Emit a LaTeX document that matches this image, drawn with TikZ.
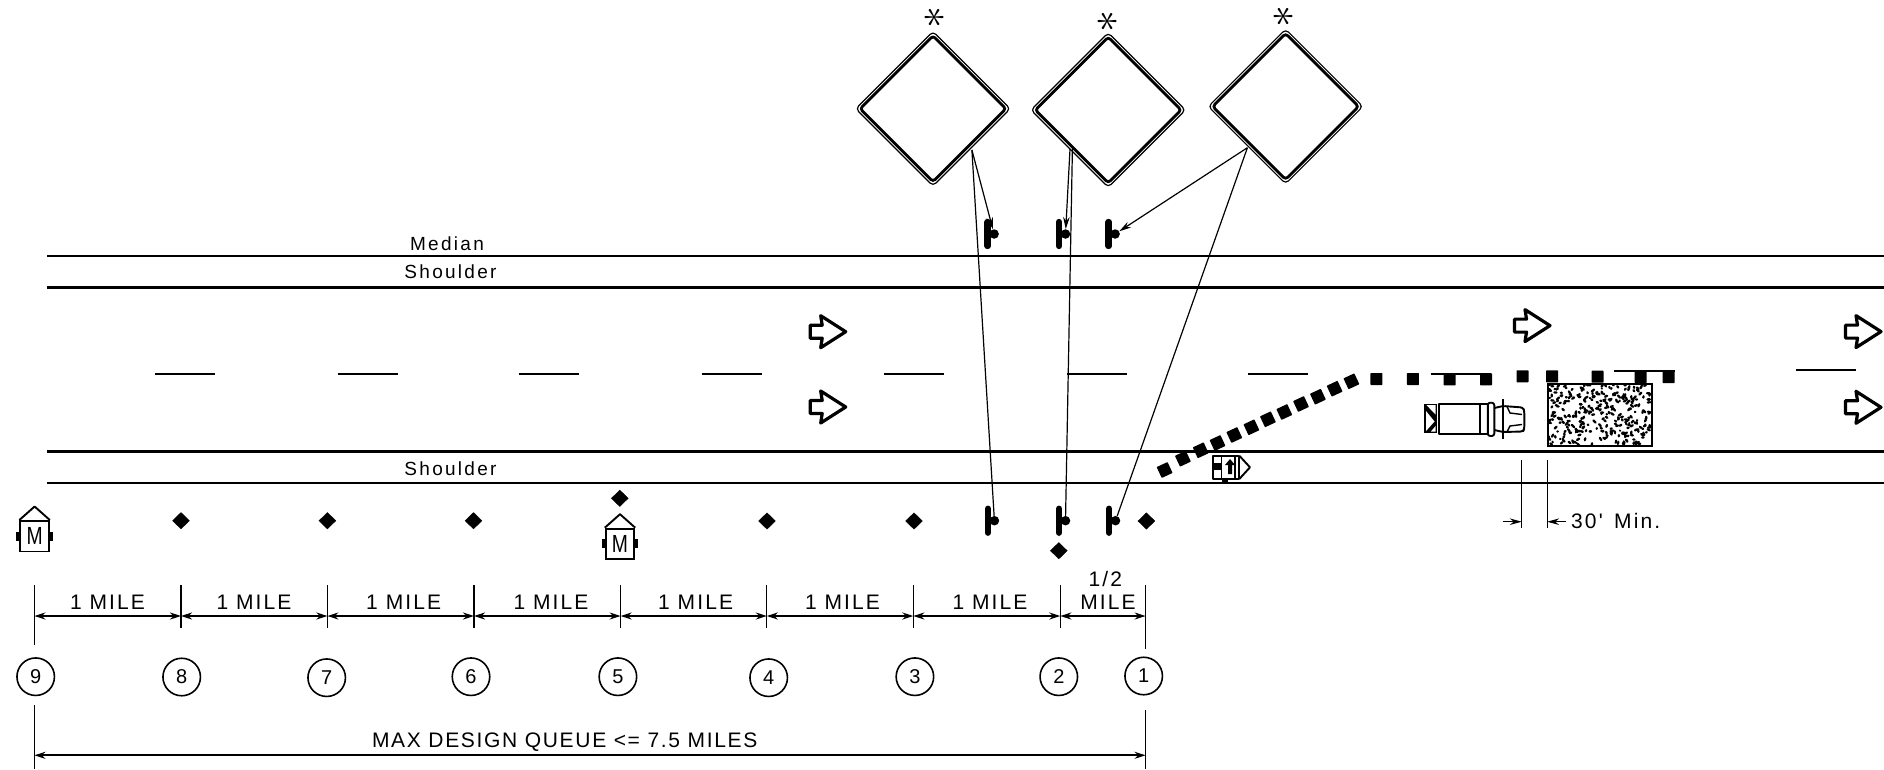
\documentclass[tikz,border=0pt]{standalone}
\usepackage{fontspec}
\setmainfont{Liberation Sans}
\usetikzlibrary{shapes.geometric,arrows.meta,calc}
\newfontfamily\cadfont[LetterSpace=10]{Liberation Sans}
\newfontfamily\cadlong[LetterSpace=8]{Liberation Sans}
\newfontfamily\cadlower[LetterSpace=12]{Liberation Sans}
\tikzset{
  signouter/.style={draw=black,shape=diamond,aspect=1,inner sep=0pt,minimum width=155pt,minimum height=155pt,line width=1.2pt,rounded corners=4pt},
  signinner/.style={draw=black,shape=diamond,aspect=1,inner sep=0pt,minimum width=147pt,minimum height=147pt,line width=2.8pt,rounded corners=3pt},
  starmark/.style={inner sep=0pt,rotate=90,scale=4.4},
  dotmark/.style={circle,fill=black,inner sep=0pt,minimum size=9.5pt},
  barmark/.style={line width=6.3pt,line cap=round},
  site/.style={draw=black,fill=black,shape=diamond,aspect=1,inner sep=0pt,minimum width=17pt,minimum height=16.5pt},
  drum/.style={fill=black,inner sep=0pt,minimum width=12pt,minimum height=12pt,rounded corners=0.6pt},
  station/.style={circle,draw=black,line width=1.6pt,inner sep=0pt,minimum size=37.5pt,font=\fontsize{20}{20}\selectfont},
  cadtext/.style={inner sep=0pt,font=\fontsize{21}{21}\cadfont},
  longtext/.style={inner sep=0pt,font=\fontsize{21}{21}\cadlong},
  lowertext/.style={inner sep=0pt,font=\fontsize{19}{19}\cadlower},
  dimline/.style={line width=1.8pt,{Stealth[length=11pt,width=7pt]}-{Stealth[length=11pt,width=7pt]}},
  tick/.style={line width=1.2pt},
  leader/.style={line width=1.2pt},
  leaderarrow/.style={line width=1.2pt,-{Stealth[length=12pt,width=6.5pt]}},
  roadthin/.style={line width=2pt},
  roadthick/.style={line width=3pt},
  lanedash/.style={line width=1.9pt},
  flowarrow/.style={line width=3.2pt,line join=round},
  unitline/.style={line width=1.9pt,line join=round}
}
\newcommand{\signset}[4]{% name x y
  \node[signouter] (#1) at (#2,#3) {};
  \node[signinner] (#1i) at (#2,#3) {};
  \node[starmark] (#1s) at #4 {$\ast$};
}
\newcommand{\postset}[3]{% name barx y
  \draw[barmark] (#2,#3-12) -- (#2,#3+12);
  \node[dotmark] (#1) at (#2+6.5,#3) {};
}
\newcommand{\meterbox}[3]{% name x(center) ytop
  \node[draw=black,line width=1.9pt,inner sep=0pt,minimum width=28.5pt,minimum height=30.5pt,anchor=north] (#1) at (#2,#3) {\fontsize{21}{21}\selectfont\scalebox{0.92}[1.18]{M}};
  \draw[unitline] (#1.north west) -- ($(#1.north)+(0,-13.5)$) -- (#1.north east);
  \fill ($(#1.west)+(-3,-4.5)$) rectangle ($(#1.west)+(0,4.5)$);
  \fill ($(#1.east)+(0,-4.5)$) rectangle ($(#1.east)+(3,4.5)$);
}
\newcommand{\flowmark}[2]{%
  \draw[flowarrow] (#1,#2) -- ++(-25,-16) -- ++(1.5,9.5) -- ++(-12,0) -- ++(0,13) -- ++(12,0) -- ++(-1.5,9.5) -- cycle;
}
\begin{document}
\begin{tikzpicture}[x=1pt,y=-1pt]
\useasboundingbox (0,0) rectangle (1884,769);
% road
\coordinate (rl1) at (47,256);\coordinate (rr1) at (1884,256);
\coordinate (rl2) at (47,287.3);\coordinate (rr2) at (1884,287.3);
\coordinate (rl3) at (47,451.7);\coordinate (rr3) at (1884,451.7);
\coordinate (rl4) at (47,482.7);\coordinate (rr4) at (1884,482.7);
\draw[roadthin] (rl1) -- (rr1);
\draw[roadthick] (rl2) -- (rr2);
\draw[roadthick] (rl3) -- (rr3);
\draw[roadthin] (rl4) -- (rr4);
\foreach \a/\b/\y in {155/215/373.7,337.6/397.7/373.7,519/579/373.7,701.7/761.7/373.7,884/944/373.7,1067/1127/373.7,1248/1308/373.7,1431/1491/373.7,1614/1674.6/370.7,1796/1856/370}
  \draw[lanedash] (\a,\y) -- (\b,\y);
\node[lowertext] (tm) at (447,244) {Median};
\node[lowertext] (ts1) at (450.5,271.5) {Shoulder};
\node[lowertext] (ts2) at (450.5,468.6) {Shoulder};
% flow arrows
\flowmark{845.7}{331.7}
\flowmark{845.7}{407}
\flowmark{1550}{325.6}
\flowmark{1881}{331.6}
\flowmark{1881}{407.3}
% signs
\signset{sa}{933}{108.7}{(935,17)}
\signset{sb}{1108.2}{110}{(1108,21)}
\signset{sc}{1285.6}{106.5}{(1284,16)}
\coordinate (sao) at (971.9,150);
\coordinate (sbo) at (1070,149);
\coordinate (sbp) at (1072.4,149);
\coordinate (sco) at (1247.4,147.7);
% posts
\postset{pa}{987.6}{234}
\postset{pb}{1059}{234}
\postset{pc}{1108.6}{234}
\postset{qa}{987.9}{520.7}
\postset{qb}{1059}{520.7}
\postset{qc}{1109}{520.7}
\draw[leaderarrow] (sao) -- (pa);
\draw[leaderarrow] (sbo) -- (pb);
\draw[leaderarrow] (sco) -- (pc);
\draw[leader] (sao) -- (qa);
\draw[leader] (sbp) -- (qb);
\draw[leader] (sco) -- (qc);
% site marks
\foreach \n/\x/\y in {a/181/520.7,b/327.4/520.7,c/473.5/520.7,d/619.8/498.3,e/767/521,f/914/521,g/1146.4/521,h/1058.8/550.7}
  \node[site] (m\n) at (\x,\y) {};
\meterbox{ma}{34.6}{520}
\meterbox{mb}{620}{527.7}
% dimension ticks
\foreach \n/\x in {9/34.4,8/181,7/327.4,6/474,5/620.6,4/766.8,3/913.3,2/1060.3,1/1145.6}
  \coordinate (t\n) at (\x,616);
\foreach \n in {8,7,6,5,4,3,2}
  \draw[tick] ($(t\n)+(0,-31)$) -- ($(t\n)+(0,12)$);
\draw[tick] ($(t9)+(0,-31)$) -- ($(t9)+(0,29)$);
\draw[tick] ($(t1)+(0,-31)$) -- ($(t1)+(0,33)$);
\foreach \a/\b in {9/8,8/7,7/6,6/5,5/4,4/3,3/2,2/1}
  \draw[dimline] (t\a) -- (t\b);
\foreach \n/\x in {a/107.5,b/254,c/403.7,d/551,e/695.6,f/842.5,g/990}
  \node[cadtext] (ml\n) at (\x,602.5) {1 MILE};
\node[cadtext] (half) at (1105.4,579) {1/2};
\node[cadtext] (hm) at (1108,602) {MILE};
% stations
\foreach \n/\x/\y in {9/35.7/676.7,8/181.7/677,7/326.7/677.7,6/471/676.7,5/617.9/676.7,4/768.7/677.7,3/914.9/676.7,2/1058.8/676.7,1/1143.7/676}
  \node[station] (c\n) at (\x,\y) {\n};
% total dimension
\coordinate (ta) at (34.4,755.3);
\coordinate (tb) at (1145.6,755.3);
\draw[tick] (34.4,705) -- (34.4,769);
\draw[tick] (1145.6,710) -- (1145.6,768.5);
\draw[dimline] (ta) -- (tb);
\node[longtext] (maxq) at (564.7,742) {MAX DESIGN QUEUE <= 7.5 MILES};
% taper drums
\foreach \x/\y [count=\i] in {1164.6/470,1182.9/458.7,1200.7/450.3,1217.5/443,1234.3/435,1251.4/427.3,1267.9/419.3,1284.3/412,1301/404,1317.9/396.7,1334.6/388.7,1351.4/381.3}
  \node[drum,rotate=25] (dr\i) at (\x,\y) {};
\foreach \x/\y [count=\i] in {1376.4/379,1412.9/379,1449.6/379.3,1486/379.3,1522.5/376.3,1552.1/376.3,1597.5/376.7,1640.7/377,1668.6/377}
  \node[drum] (ds\i) at (\x,\y) {};
% work area
\pgfmathsetseed{11}
\begin{scope}
\clip (1548,384) rectangle (1652,446);
\foreach \k in {1,...,330}{
  \pgfmathsetmacro\bx{1549+102*rnd}
  \pgfmathsetmacro\by{385+60*rnd}
  \pgfmathsetmacro\dx{4.5*rnd-2.2}
  \pgfmathsetmacro\dy{4.5*rnd-2.2}
  \draw[line width=2.3pt,line cap=round] (\bx,\by) -- ++(\dx,\dy);
}
\end{scope}
\draw[line width=2pt] (1547.9,384) rectangle (1652.1,446);
% truck
\fill (1424,404) rectangle (1436.7,432.7);
\fill[white] (1426,411) -- (1434.5,421.5) -- (1426,431) -- cycle;
\fill[white] (1426.5,405.2) -- (1435.6,405.2) -- (1435.6,414.5) -- cycle;
\fill[white] (1435.6,426) -- (1435.6,431.6) -- (1430.8,431.6) -- cycle;
\draw[unitline] (1439,404) rectangle (1487.7,434);
\draw[line width=1.2pt] (1480,404) -- (1480,434);
\draw[unitline,rounded corners=2.5pt] (1487.7,402.7) -- (1494.3,402.7) -- (1494.3,436) -- (1487.7,436) -- cycle;
\draw[unitline,rounded corners=2.5pt] (1494.3,408) -- (1503,406) -- (1523,407.5) -- (1524.3,411) -- (1524.3,429) -- (1523,431.5) -- (1503,432) -- (1494.3,430);
\draw[line width=2pt] (1503.3,399.3) -- (1503.3,439.3);
\draw[line width=1.4pt] (1507,406.5) -- (1510,413) -- (1522,414.5);
\draw[line width=1.4pt] (1507,432) -- (1510,426) -- (1522,424.5);
% arrow board
\draw[unitline] (1213.3,455.7) rectangle (1239.3,479);
\draw[unitline] (1239.3,455.7) -- (1250,467.3) -- (1239.3,479);
\draw[line width=1.3pt] (1221.7,455.7) -- (1221.7,479);
\draw[line width=1.3pt] (1235,455.7) -- (1235,479);
\fill (1213.3,463) rectangle (1221.7,470);
\fill (1221.7,479) rectangle (1228.3,481.5);
\fill (1230,459) -- (1235,465) -- (1232,465) -- (1232,474) -- (1228,474) -- (1228,465) -- (1225,465) -- cycle;
% 30 ft dimension
\coordinate (xa) at (1521.8,521.7);
\coordinate (xb) at (1547.1,521.7);
\coordinate (xal) at (1502.5,521.7);
\coordinate (xbr) at (1566.4,521.7);
\draw[tick] (1521.8,460) -- (1521.8,528.3);
\draw[tick] (1547.1,460) -- (1547.1,528.3);
\draw[leaderarrow] (xal) -- (xa);
\draw[leaderarrow] (xbr) -- (xb);
\node[cadtext] (thirty) at (1615.7,521.3) {30' \,Min.};
\end{tikzpicture}
\end{document}
